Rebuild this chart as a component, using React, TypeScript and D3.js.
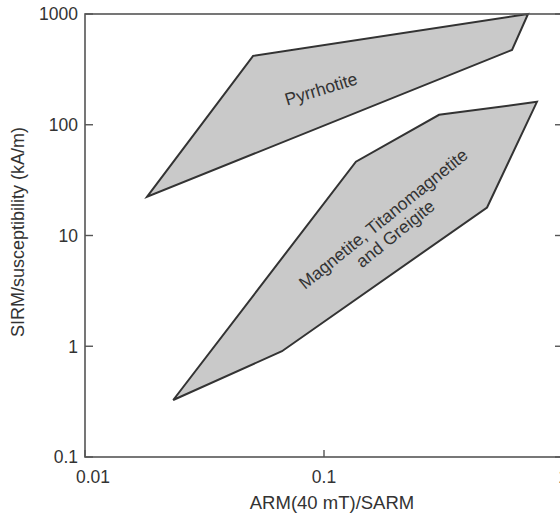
import React from "react";
import * as d3 from "d3";

// Field boundaries (ARM(40 mT)/SARM vs SIRM/susceptibility)
const pyrrhotiteX = [0.0182, 0.0505, 0.714, 0.612];
const pyrrhotiteY = [22.4, 419, 1000, 474];

const magnetiteX = [0.0234, 0.0667, 0.481, 0.778, 0.303, 0.136];
const magnetiteY = [0.327, 0.902, 17.9, 161, 123, 46.4];

const xTicks = [0.01, 0.1, 1];
const xTickLabels = ["0.01", "0.1", "1"];
const yTicks = [0.1, 1, 10, 100, 1000];
const yTickLabels = ["0.1", "1", "10", "100", "1000"];

const W = 560;
const H = 515;
const FONT = "'Liberation Sans', Arial, Helvetica, sans-serif";
const TEXT = "#333";

export default function App() {
  const x = d3.scaleLog().domain([0.01, 1]).range([85, 563]);
  const y = d3.scaleLog().domain([0.1, 1000]).range([457, 14]);

  const line = d3
    .line<[number, number]>()
    .x((d) => x(d[0]))
    .y((d) => y(d[1]))
    .curve(d3.curveLinearClosed);

  const pyr = line(pyrrhotiteX.map((v, i) => [v, pyrrhotiteY[i]]) as [number, number][]);
  const mag = line(magnetiteX.map((v, i) => [v, magnetiteY[i]]) as [number, number][]);

  const [x0, x1] = x.range();
  const [y0, y1] = y.range();

  return (
    <svg
      width={W}
      height={H}
      style={{ position: "absolute", left: 0, top: 0, background: "#fff" }}
      fontFamily={FONT}
    >
      <rect x={0} y={0} width={W} height={H} fill="#fff" />

      {/* regions */}
      <path d={pyr ?? ""} fill="#c9c9c9" stroke="#333" strokeWidth={2} strokeLinejoin="miter" />
      <path d={mag ?? ""} fill="#c9c9c9" stroke="#333" strokeWidth={2} strokeLinejoin="miter" />

      {/* frame */}
      <rect
        x={x0}
        y={y1}
        width={x1 - x0}
        height={y0 - y1}
        fill="none"
        stroke="#555"
        strokeWidth={1.6}
      />

      {/* y ticks, inward on both sides */}
      {yTicks.map((t, i) => (
        <g key={"y" + t}>
          <line x1={x0} x2={x0 + 8} y1={y(t)} y2={y(t)} stroke="#555" strokeWidth={1.4} />
          <line x1={x1} x2={x1 - 8} y1={y(t)} y2={y(t)} stroke="#555" strokeWidth={1.4} />
          <text
            x={x0 - 7}
            y={y(t)}
            dy="0.36em"
            textAnchor="end"
            fontSize={17.5}
            fill={TEXT}
          >
            {yTickLabels[i]}
          </text>
        </g>
      ))}

      {/* x ticks, inward */}
      {xTicks.map((t, i) => (
        <g key={"x" + t}>
          <line x1={x(t)} x2={x(t)} y1={y0} y2={y0 - 7} stroke="#555" strokeWidth={1.4} />
          <text
            x={x(t) + (i === 0 ? 8 : 0)}
            y={y0 + 26}
            textAnchor="middle"
            fontSize={17.5}
            fill={TEXT}
          >
            {xTickLabels[i]}
          </text>
        </g>
      ))}

      {/* axis titles */}
      <text x={332} y={509} textAnchor="middle" fontSize={18.5} fill={TEXT}>
        ARM(40 mT)/SARM
      </text>
      <text
        transform={`translate(24,${232}) rotate(-90)`}
        textAnchor="middle"
        fontSize={18}
        fill={TEXT}
      >
        SIRM/susceptibility (kA/m)
      </text>

      {/* region labels */}
      <text
        transform={`translate(321,89) rotate(-17)`}
        textAnchor="middle"
        dy="0.35em"
        fontSize={17.5}
        fill={TEXT}
      >
        Pyrrhotite
      </text>
      <g transform={`translate(389,226) rotate(-39)`}>
        <text x={0} y={-3} textAnchor="middle" fontSize={17.5} fill={TEXT}>
          Magnetite, Titanomagnetite
        </text>
        <text x={0} y={16} textAnchor="middle" fontSize={17.5} fill={TEXT}>
          and Greigite
        </text>
      </g>
    </svg>
  );
}
